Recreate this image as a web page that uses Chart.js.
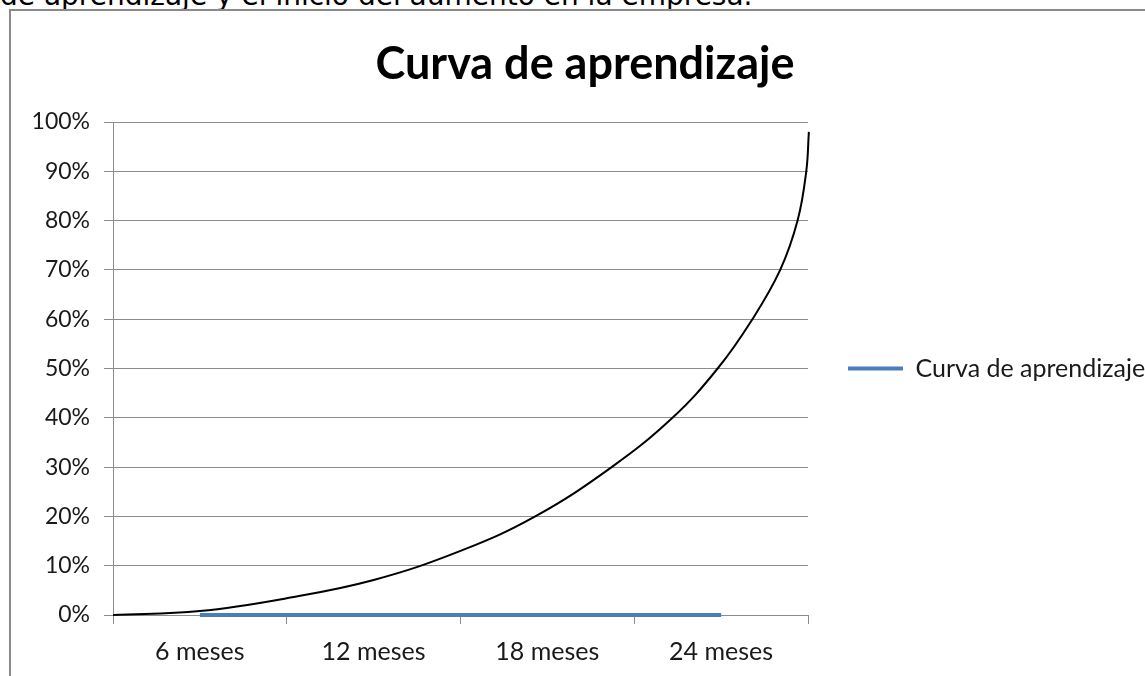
<!DOCTYPE html>
<html>
<head>
<meta charset="utf-8">
<script src="https://cdn.jsdelivr.net/npm/chart.js@4"></script>
<style>
  html, body { margin: 0; padding: 0; background: #fff; overflow: hidden; width: 1145px; height: 676px; }
  #intro { position: absolute; left: 0; top: -18px; font: 28px 'DejaVu Sans', sans-serif; line-height: 28px; white-space: nowrap; color: #000; }
  #frame { position: absolute; left: 9px; top: 9px; width: 1300px; height: 800px; border: 2px solid #8a8a8a; }
  #wrap { position: absolute; left: 11px; top: 11px; width: 1148px; height: 659px; }
</style>
</head>
<body>
<div id="intro">de aprendizaje y el inicio del aumento en la empresa.</div>
<div id="frame"></div>
<div id="wrap"><canvas id="chart"></canvas></div>
<script>
// categorias y serie (todo en 0%)
const categories = ['6 meses', '12 meses', '18 meses', '24 meses'];
const serieValues = [0, 0, 0, 0];
const serieName = 'Curva de aprendizaje';

// curva negra dibujada encima: posicion en bloques de categoria (0..4) y porcentaje
const curveX = [0, 0.5, 1.0, 1.5, 2.0, 2.43, 2.87, 3.22, 3.48, 3.68, 3.84, 3.94, 3.99, 4.005];
const curveY = [0, 0.8, 3.4, 7.1, 13, 20, 30, 40, 50, 60, 70, 80, 90, 98];

const yMin = 0, yMax = 100, yStep = 10;

const GRID = '#8c8c8c';
const TEXT = '#1a1a1a';
const FONT = 'Lato';
const LEGEND_SIZE = 25;
const LEGEND_PAD = 40;
const LINE_W = 55;

const ctx = document.getElementById('chart').getContext('2d');

// ancho de la leyenda -> padding para que el area del grafico termine en x=808
ctx.font = `${LEGEND_SIZE}px ${FONT}`;
const legendW = LEGEND_PAD + LINE_W + LEGEND_SIZE / 2 + ctx.measureText(serieName).width + 10;
const sidePad = Math.max(0, 351 - legendW);

new Chart(ctx, {
  type: 'line',
  data: {
    labels: categories,
    datasets: [{
      label: serieName,
      data: serieValues,
      borderColor: '#4a7ebb',
      backgroundColor: '#4a7ebb',
      borderWidth: 4,
      pointRadius: 0,
      clip: false,
      order: 0,
    }, {
      label: 'curva',
      data: curveX.map((x, i) => ({ x, y: curveY[i] })),
      xAxisID: 'x2',
      borderColor: '#000',
      borderWidth: 2,
      pointRadius: 0,
      tension: 0.4,
      clip: false,
      order: 1,
    }]
  },
  options: {
    responsive: true,
    maintainAspectRatio: false,
    animation: false,
    layout: { padding: { left: sidePad, right: sidePad, top: 0, bottom: 0 } },
    plugins: {
      title: {
        display: true,
        text: 'Curva de aprendizaje',
        color: '#000',
        font: { family: FONT, size: 45, weight: 'bold' },
        padding: { top: 26, bottom: 31 },
      },
      legend: {
        position: 'right',
        fullSize: false,
        maxWidth: 500,
        labels: {
          usePointStyle: true,
          pointStyle: 'line',
          pointStyleWidth: LINE_W,
          boxWidth: LINE_W,
          padding: LEGEND_PAD,
          color: TEXT,
          font: { family: FONT, size: LEGEND_SIZE },
          filter: (item) => item.datasetIndex === 0,
        }
      },
      tooltip: { enabled: false }
    },
    scales: {
      x: {
        type: 'category',
        offset: true,
        grid: { offset: true, drawOnChartArea: false, drawTicks: true, tickLength: 9, color: GRID },
        border: { display: true, color: GRID, width: 1 },
        ticks: { color: TEXT, padding: 13, font: { family: FONT, size: 25 }, maxRotation: 0 },
        afterFit: (s) => { s.height = 55; }
      },
      x2: {
        type: 'linear',
        display: false,
        min: 0,
        max: 4,
      },
      y: {
        min: yMin,
        max: yMax,
        grid: { color: GRID, tickLength: 9 },
        border: { display: true, color: GRID, width: 1 },
        ticks: {
          stepSize: yStep,
          padding: 14,
          color: TEXT,
          font: { family: FONT, size: 23 },
          callback: (v) => v + '%'
        },
        afterFit: (s) => { s.width = 102 - sidePad; }
      }
    }
  }
});
</script>
</body>
</html>
